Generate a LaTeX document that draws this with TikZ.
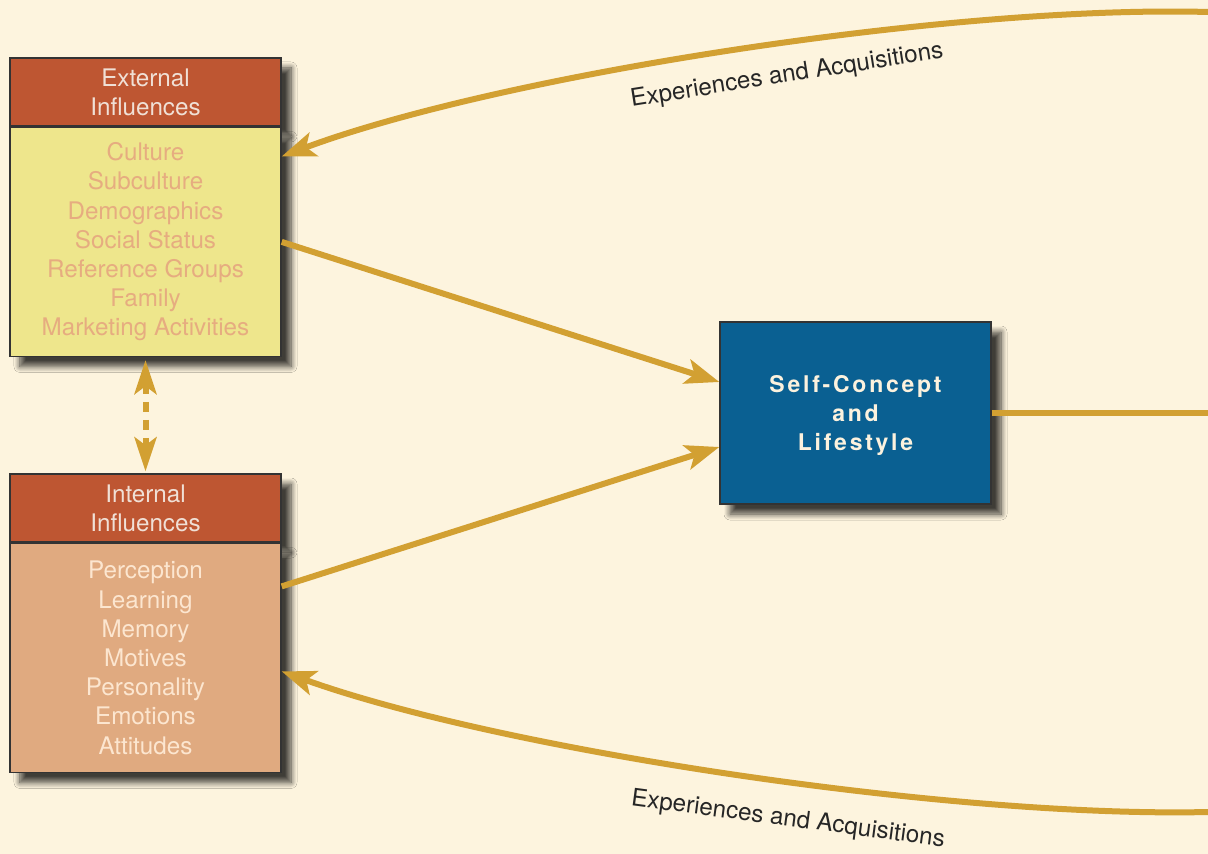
\documentclass[tikz,border=0pt]{standalone}
\usepackage{fontspec}
\setmainfont{TeX Gyre Heros}
\newfontfamily\spacedfont[LetterSpace=12]{TeX Gyre Heros}
\definecolor{bgcream}{RGB}{253,244,222}
\definecolor{headred}{RGB}{190,86,50}
\definecolor{headtext}{RGB}{240,224,214}
\definecolor{extyellow}{RGB}{238,230,140}
\definecolor{exttext}{RGB}{230,172,128}
\definecolor{inttan}{RGB}{224,170,128}
\definecolor{inttext}{RGB}{252,230,208}
\definecolor{selfblue}{RGB}{10,96,146}
\definecolor{selftext}{RGB}{252,242,222}
\definecolor{arrowgold}{RGB}{210,160,50}
\usetikzlibrary{positioning, arrows.meta, shadows.blur}

\begin{document}
\begin{tikzpicture}[x=0.5pt, y=-0.5pt,
    every node/.style={font=\fontsize{12.1}{14.6}\selectfont},
    boxshadow/.style={blur shadow={shadow xshift=5pt, shadow yshift=-5pt, shadow blur radius=3pt, shadow blur steps=8, shadow opacity=75}},
    headbox/.style={draw=black!80, line width=0.7pt, fill=headred, text=headtext, minimum width=135.5pt, minimum height=34pt, align=center, inner sep=0pt, boxshadow},
    listbox/.style={draw=black!80, line width=0.7pt, minimum width=135.5pt, minimum height=114.5pt, align=center, inner sep=0pt, boxshadow},
    flow/.style={draw=arrowgold, line width=3pt, -{Stealth[length=17pt, width=12.5pt, inset=4pt]}},
  ]
  % background
  \fill[bgcream] (0,0) rectangle (1208,854);
  \useasboundingbox (0,0) rectangle (1208,854);

  % External influences box
  \node[headbox] (exthead) at (145.5,92) {External\\Influences};
  \node[listbox, fill=extyellow, text=exttext, below=0pt of exthead] (extbody)
    {Culture\\Subculture\\Demographics\\Social Status\\Reference Groups\\Family\\Marketing Activities};

  % Internal influences box
  \node[headbox] (inthead) at (145.5,508) {Internal\\Influences};
  \node[listbox, fill=inttan, text=inttext, below=0pt of inthead] (intbody)
    {Perception\\Learning\\Memory\\Motives\\Personality\\Emotions\\Attitudes};

  % Self-concept box
  \node[draw=black!80, line width=0.7pt, fill=selfblue, text=selftext, minimum width=135.5pt, minimum height=91pt,
    align=center, boxshadow, font=\spacedfont\bfseries\fontsize{11.5}{14.5}\selectfont] (self) at (855.5,413)
    {\rule{0pt}{11.5pt}Self-Concept\\and\\Lifestyle};

  % free ends at the right edge
  \coordinate (topend) at (1208,12);
  \coordinate (rightend) at (1208,413);
  \coordinate (botend) at (1208,812);

  % influences into self-concept
  \draw[flow] (extbody.east) -- ([yshift=15.5pt]self.west);
  \draw[flow] ([yshift=35.75pt]intbody.east) -- ([yshift=-17pt]self.west);
  \draw[draw=arrowgold, line width=3pt] (self.east) -- (rightend);

  % dashed link between the two boxes
  \draw[draw=arrowgold, line width=3pt, dash pattern=on 5pt off 4pt,
    {Stealth[length=17pt, width=11pt, inset=4pt]}-{Stealth[length=17pt, width=11pt, inset=4pt]}]
    ([yshift=-1.5pt]extbody.south) -- ([yshift=1pt]inthead.north);

  % feedback curves
  \draw[flow] (topend) .. controls (950,5) and (500,75) .. ([yshift=42.75pt]extbody.east);
  \draw[flow] (botend) .. controls (950,818) and (500,750) .. ([yshift=-6.75pt]intbody.east);
  \node[text=black!85, rotate=9] (toplabel) at (787,76) {Experiences and Acquisitions};
  \node[text=black!85, rotate=-7.5] (botlabel) at (788,820) {Experiences and Acquisitions};
\end{tikzpicture}
\end{document}
